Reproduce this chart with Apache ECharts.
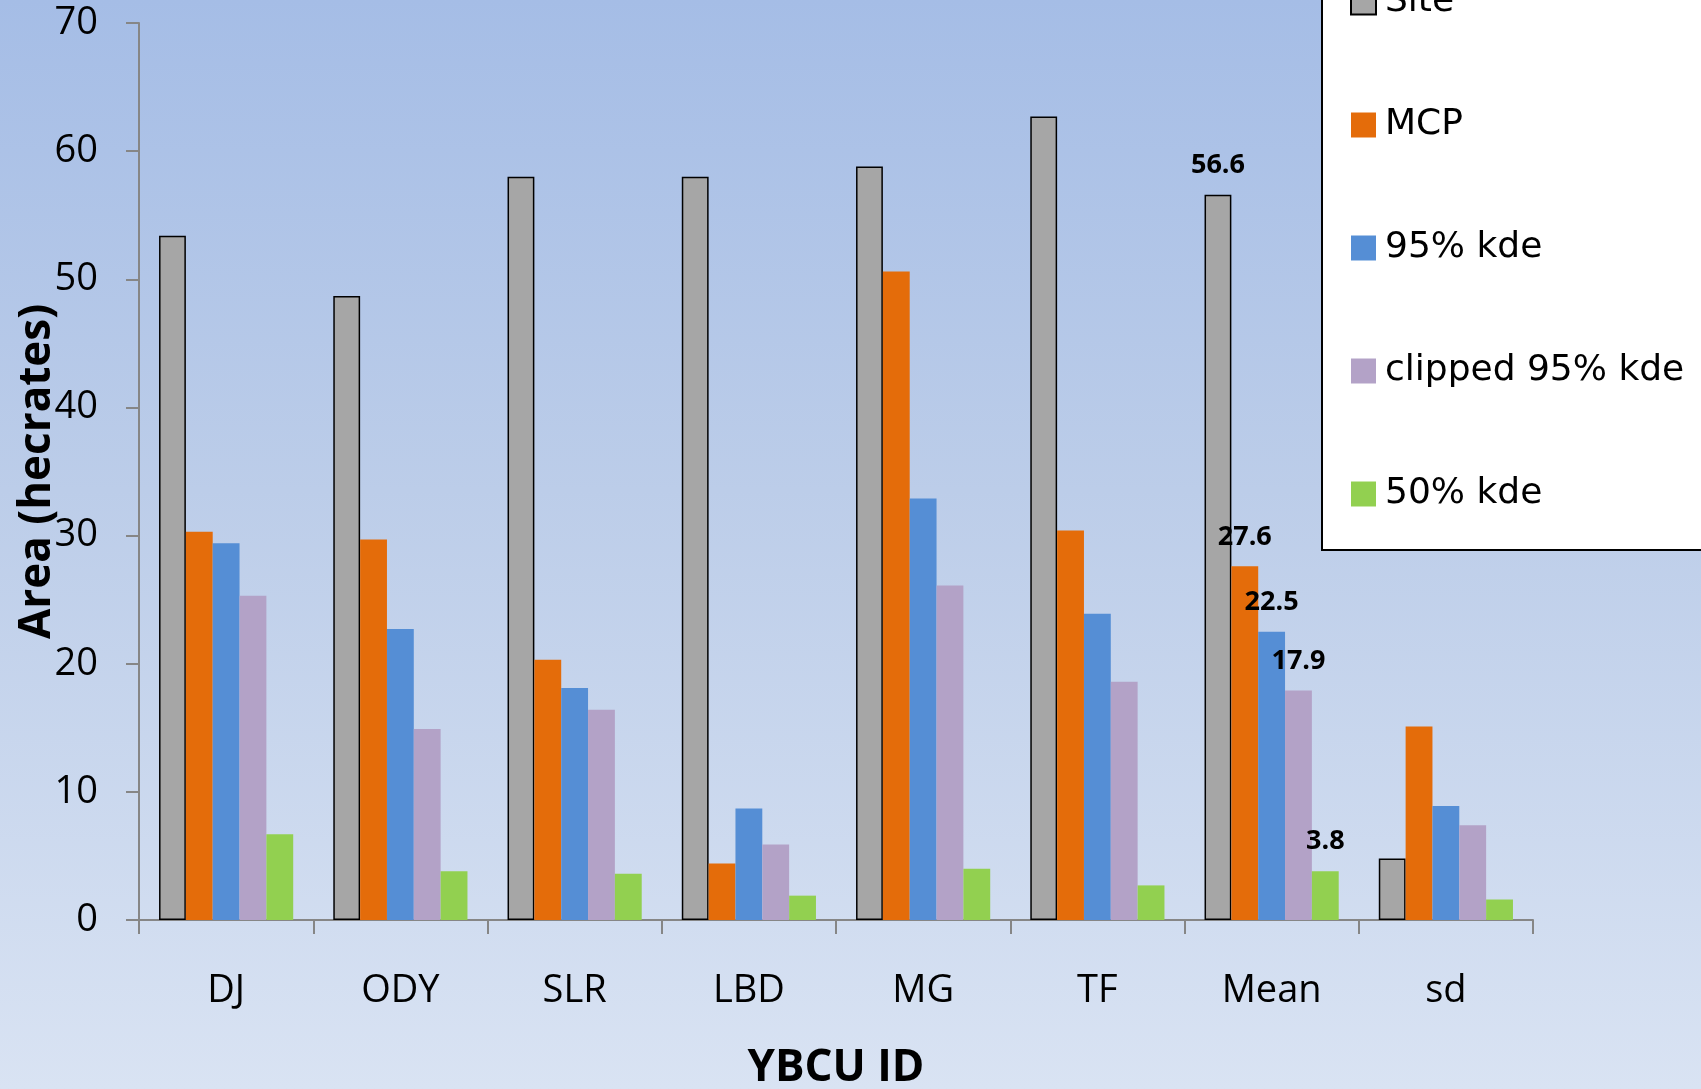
<!DOCTYPE html>
<html>
<head>
<meta charset="utf-8">
<script src="https://cdn.jsdelivr.net/npm/echarts@6/dist/echarts.min.js"></script>
<style>
  html, body { margin: 0; padding: 0; }
  #chart {
    width: 1701px;
    height: 1089px;
    background: linear-gradient(to bottom, #a5bde6 0%, #bccde9 45%, #d9e3f3 100%);
  }
</style>
</head>
<body>
<div id="chart"></div>
<script>
// 数据
const categories = ['DJ', 'ODY', 'SLR', 'LBD', 'MG', 'TF', 'Mean', 'sd']
const site = [53.4, 48.7, 58.0, 58.0, 58.8, 62.7, 56.6, 4.8]
const mcp = [30.3, 29.7, 20.3, 4.4, 50.6, 30.4, 27.6, 15.1]
const kde95 = [29.4, 22.7, 18.1, 8.7, 32.9, 23.9, 22.5, 8.9]
const clipped95 = [25.3, 14.9, 16.4, 5.9, 26.1, 18.6, 17.9, 7.4]
const kde50 = [6.7, 3.8, 3.6, 1.9, 4.0, 2.7, 3.8, 1.6]
const yTicks = [0, 10, 20, 30, 40, 50, 60, 70]

const labelCat = 'Mean'
const numFont = '"Open Sans", sans-serif'

// 只在 Mean 上显示数值
function makeSeries(name, data, color, border) {
  return {
    name,
    type: 'bar',
    data: data.map((v, i) => ({
      value: v,
      label: { show: categories[i] === labelCat }
    })),
    barGap: '0%',
    barCategoryGap: '23%',
    itemStyle: border
      ? { color, borderColor: '#000', borderWidth: 1.5 }
      : { color },
    label: {
      position: 'top',
      distance: 16,
      color: '#000',
      fontFamily: numFont,
      fontWeight: 'bold',
      fontSize: 27,
      formatter: p => p.value.toFixed(1)
    }
  }
}

const chart = echarts.init(document.getElementById('chart'), null, { renderer: 'canvas' })

chart.setOption({
  backgroundColor: 'transparent',
  animation: false,
  grid: { left: 139, right: 168, top: 23, bottom: 169, outerBoundsMode: 'none', containLabel: false },
  graphic: [{
    type: 'rect',
    z: 5,
    shape: { x: 1322, y: -10, width: 420, height: 560 },
    style: { fill: '#fff', stroke: '#000', lineWidth: 2 }
  }],
  legend: {
    z: 10,
    orient: 'vertical',
    left: 1345,
    top: -21,
    itemWidth: 25,
    itemHeight: 25,
    itemGap: 87,
    icon: 'rect',
    textStyle: { fontFamily: '"DejaVu Sans", sans-serif', fontSize: 36, color: '#000', padding: [0, 0, 0, 4] }
  },
  xAxis: {
    type: 'category',
    data: categories,
    name: 'YBCU ID',
    nameLocation: 'middle',
    nameGap: 126,
    nameMoveOverlap: false,
    nameTextStyle: { fontFamily: numFont, fontWeight: 'bold', fontSize: 44, color: '#000' },
    axisLine: { lineStyle: { color: '#868686', width: 2 } },
    axisTick: { show: true, length: 14, lineStyle: { color: '#868686', width: 2 } },
    axisLabel: { margin: 52, fontFamily: numFont, fontSize: 38, color: '#000' },
    splitLine: { show: false }
  },
  yAxis: {
    type: 'value',
    min: yTicks[0],
    max: yTicks[yTicks.length - 1],
    interval: 10,
    name: 'Area (hecrates)',
    nameLocation: 'middle',
    nameRotate: 90,
    nameGap: 80,
    nameMoveOverlap: false,
    nameTextStyle: { fontFamily: numFont, fontWeight: 'bold', fontSize: 44, color: '#000' },
    axisLine: { show: true, lineStyle: { color: '#868686', width: 2 } },
    axisTick: { show: true, length: 13, lineStyle: { color: '#868686', width: 2 } },
    axisLabel: { margin: 41, fontFamily: numFont, fontSize: 38, color: '#000' },
    splitLine: { show: false }
  },
  series: [
    makeSeries('Site', site, '#a6a6a6', true),
    makeSeries('MCP', mcp, '#e46c0a'),
    makeSeries('95% kde', kde95, '#558ed5'),
    makeSeries('clipped 95% kde', clipped95, '#b3a2c7'),
    makeSeries('50% kde', kde50, '#92d050')
  ]
})
</script>
</body>
</html>
